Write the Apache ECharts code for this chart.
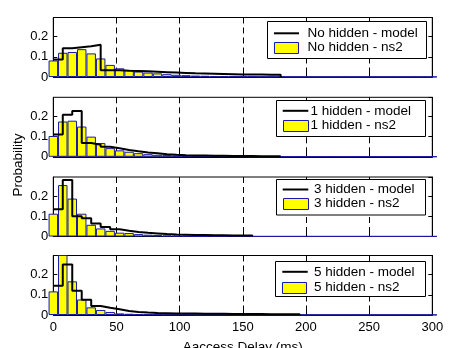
<!DOCTYPE html>
<html>
<head>
<meta charset="utf-8">
<script src="https://cdn.jsdelivr.net/npm/echarts@6/dist/echarts.min.js"></script>
<style>
html,body{margin:0;padding:0;background:#fff;}
#chart{width:459px;height:348px;}
</style>
</head>
<body>
<div id="chart"></div>
<script>
// Bin centres (ms)
const binCenters = [0,7.5,15,22.5,30,37.5,45,52.5,60,67.5,75,82.5,90,97.5,105,112.5,120,127.5,135,142.5,150,157.5,165,172.5,180,187.5,195,202.5,210,217.5,225,232.5,240,247.5,255,262.5,270,277.5,285,292.5,300];

// Panel labels
const panelNames = ['No hidden', '1 hidden', '3 hidden', '5 hidden'];

// ns2 histogram probabilities
const ns2NoHidden = [0.082,0.12,0.124,0.138,0.117,0.092,0.06,0.043,0.035,0.027,0.022,0.018,0.014,0.011,0.009,0.007,0.006,0.005,0.004,0.004,0.003,0.003,0.002,0.002,0.002,0.001,0.001,0.001,0.001,0.001,0.001,0.001,0.001,0.001,0.001,0.001,0.001,0.001,0.001,0.001,0.001];
const ns2Hidden1 = [0.103,0.175,0.179,0.15,0.1,0.068,0.043,0.032,0.025,0.018,0.013,0.01,0.008,0.006,0.005,0.004,0.003,0.003,0.002,0.002,0.002,0.001,0.001,0.001,0.001,0.001,0.001,0.001,0.001,0.001,0.001,0.001,0.001,0.001,0.001,0.001,0.001,0.001,0.001,0.001,0.001];
const ns2Hidden3 = [0.113,0.255,0.188,0.113,0.058,0.04,0.028,0.019,0.017,0.012,0.009,0.007,0.005,0.004,0.003,0.003,0.002,0.002,0.002,0.001,0.001,0.001,0.001,0.001,0.001,0.001,0.001,0.001,0.001,0.001,0.001,0.001,0.001,0.001,0.001,0.001,0.001,0.001,0.001,0.001,0.001];
const ns2Hidden5 = [0.117,0.33,0.167,0.077,0.038,0.025,0.015,0.008,0.006,0.004,0.003,0.003,0.002,0.002,0.002,0.001,0.001,0.001,0.001,0.001,0.001,0.001,0.001,0.001,0.001,0.001,0.001,0.001,0.001,0.001,0.001,0.001,0.001,0.001,0.001,0.001,0.001,0.001,0.001,0.001,0.001];

// model probabilities (stairs: value holds from a bin centre to the next)
const modelNoHidden = [0.087,0.142,0.147,0.152,0.16,0.034,0.033,0.031,0.03,0.028,0.026,0.024,0.022,0.02,0.018,0.017,0.016,0.015,0.014,0.013,0.012,0.012,0.011,0.011,0];
const modelHidden1 = [0.11,0.208,0.227,0.068,0.06,0.05,0.042,0.034,0.027,0.021,0.017,0.013,0.01,0.008,0.007,0.006,0.005,0.005,0.004,0.004,0.004,0.003,0.003,0.003,0];
const modelHidden3 = [0.135,0.28,0.1,0.09,0.065,0.047,0.036,0.028,0.022,0.018,0.015,0.012,0.01,0.009,0.008,0.007,0.006,0.006,0.005,0.005,0.005,0];
const modelHidden5 = [0.145,0.25,0.12,0.075,0.045,0.036,0.028,0.02,0.015,0.012,0.01,0.009,0.008,0.007,0.007,0.006,0.006,0.006,0.005,0.005,0.005,0.005,0.004,0.004,0.004,0.004,0];

const ns2Series = [ns2NoHidden, ns2Hidden1, ns2Hidden3, ns2Hidden5];
const modelSeries = [modelNoHidden, modelHidden1, modelHidden3, modelHidden5];

// axis ticks
const xMin = 0, xMax = 300, xStep = 50;
const yMin = 0, yMax = 0.295, yStep = 0.1;
const xTitle = 'Aaccess Delay (ms)';
const yTitle = 'Probability';

// layout
const FONT = '"Liberation Sans", Arial, Helvetica, sans-serif';
const gridTops = [17.5, 97.3, 177, 255.5];
const gridH = 59.5;
const gridLeft = 53.3, gridW = 379;
// legend boxes: [x, y, w, h], row centres, sample x range, text x
const legBox = [[267.5, 21.5, 159, 37], [276.5, 100.5, 149, 36], [276.5, 179.5, 149, 35.5], [275.5, 261.5, 150, 35]];
const legRows = [[33.3, 47.3], [110.8, 125], [189.5, 203], [271.8, 287]];
const legSample = [[274, 299], [282.7, 308.3], [282.7, 308.3], [282.3, 307.7]];
const legTextX = [307.5, 310.5, 314, 314];

const BAR_FILL = '#ffff00', BAR_EDGE = '#1a1aa8';

const pairs = (xs, ys) => ys.map((v, i) => [xs[i], v]);

const grids = [], xAxes = [], yAxes = [], series = [], graphics = [];
for (let i = 0; i < 4; i++) {
  grids.push({left: gridLeft, top: gridTops[i], width: gridW, height: gridH,
    outerBoundsMode: 'none', containLabel: false,
    show: true, borderColor: '#000', borderWidth: 1, backgroundColor: '#fff'});
  const last = i === 3;
  xAxes.push({type: 'value', gridIndex: i, min: xMin, max: xMax, interval: xStep,
    axisLine: {show: true, lineStyle: {color: '#000', width: 1}},
    axisTick: {show: true, inside: true, length: 4, lineStyle: {color: '#000'}},
    axisLabel: {show: last, color: '#000', fontSize: 13, fontFamily: FONT, margin: 6},
    splitLine: {show: true, lineStyle: {color: '#000', width: 1, type: [6, 4]}}
  });
  yAxes.push({type: 'value', gridIndex: i, min: yMin, max: yMax, interval: yStep,
    axisLine: {show: true, lineStyle: {color: '#000', width: 1}},
    axisTick: {show: true, inside: true, length: 4, lineStyle: {color: '#000'}},
    axisLabel: {color: '#000', fontSize: 13, fontFamily: FONT, margin: 5,
      showMaxLabel: false,
      formatter: v => { const r = Math.round(v * 10); return Math.abs(v * 10 - r) < 1e-6 ? String(r / 10) : ''; }},
    splitLine: {show: false}
  });
  yAxes.push({type: 'value', gridIndex: i, min: yMin, max: yMax, interval: yStep, position: 'right',
    axisLine: {show: true, lineStyle: {color: '#000', width: 1}},
    axisTick: {show: true, inside: true, length: 4, lineStyle: {color: '#000'}},
    axisLabel: {show: false}, splitLine: {show: false}
  });
  const barName = panelNames[i] + ' - ns2';
  const lineName = panelNames[i] + ' - model';
  series.push({type: 'bar', name: barName, xAxisIndex: i, yAxisIndex: 2 * i,
    data: pairs(binCenters, ns2Series[i]), barWidth: 9.47, clip: true,
    itemStyle: {color: BAR_FILL, borderColor: BAR_EDGE, borderWidth: 1},
    emphasis: {disabled: true}, animation: false, z: 2});
  series.push({type: 'line', name: lineName, xAxisIndex: i, yAxisIndex: 2 * i,
    data: pairs(binCenters, modelSeries[i]), step: 'end', symbol: 'none', clip: true,
    lineStyle: {color: '#000', width: 2}, itemStyle: {color: '#000'},
    emphasis: {disabled: true}, animation: false, z: 3});

  // legend box drawn as graphics
  const b = legBox[i], r = legRows[i], s = legSample[i];
  graphics.push({type: 'rect', z: 100, shape: {x: b[0], y: b[1], width: b[2], height: b[3]},
    style: {fill: '#fff', stroke: '#000', lineWidth: 1}});
  graphics.push({type: 'line', z: 101, shape: {x1: s[0], y1: r[0], x2: s[1], y2: r[0]},
    style: {stroke: '#000', lineWidth: 2}});
  graphics.push({type: 'rect', z: 101, shape: {x: Math.round(s[0]) + 0.5, y: Math.round(r[1] - 5.5) + 0.5, width: Math.round(s[1] - s[0]) - 1, height: 11},
    style: {fill: BAR_FILL, stroke: BAR_EDGE, lineWidth: 1}});
  graphics.push({type: 'text', z: 101, x: legTextX[i], y: r[0],
    style: {text: lineName, fill: '#000', font: '13.5px ' + FONT, textAlign: 'left', textVerticalAlign: 'middle'}});
  graphics.push({type: 'text', z: 101, x: legTextX[i], y: r[1],
    style: {text: barName, fill: '#000', font: '13.5px ' + FONT, textAlign: 'left', textVerticalAlign: 'middle'}});
}
// axis titles
graphics.push({type: 'text', x: 18, y: 165, rotation: Math.PI / 2,
  style: {text: yTitle, fill: '#000', font: '13.5px ' + FONT, textAlign: 'center', textVerticalAlign: 'middle'}});
graphics.push({type: 'text', x: gridLeft + gridW / 2, y: 340,
  style: {text: xTitle, fill: '#000', font: '13.5px ' + FONT, textAlign: 'center', textVerticalAlign: 'top'}});

const chart = echarts.init(document.getElementById('chart'), null, {renderer: 'canvas'});
chart.setOption({
  animation: false,
  backgroundColor: '#fff',
  grid: grids, xAxis: xAxes, yAxis: yAxes, series: series,
  graphic: graphics
});
</script>
</body>
</html>
